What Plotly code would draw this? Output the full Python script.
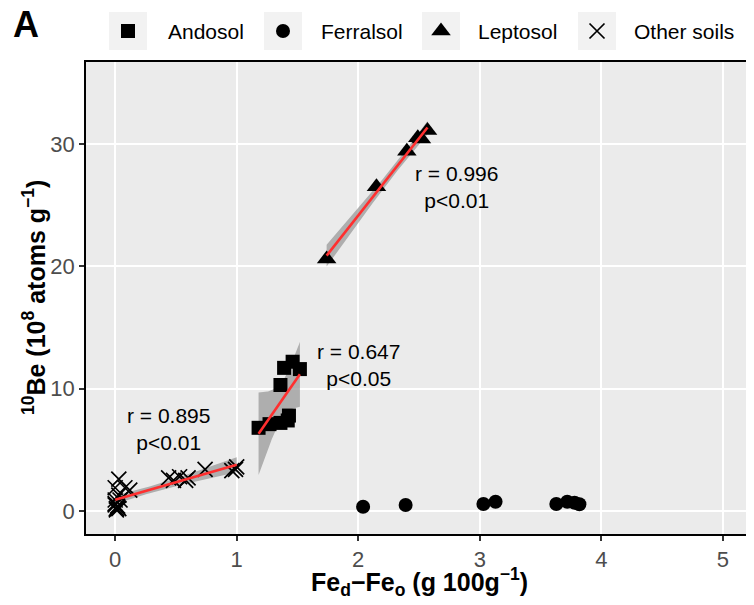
import numpy as np
import plotly.graph_objects as go

# ---------------- data ----------------
andosol_x = [1.18, 1.27, 1.36, 1.42, 1.43, 1.36, 1.39, 1.46, 1.52]
andosol_y = [6.8, 7.1, 7.2, 7.4, 7.8, 10.3, 11.7, 12.2, 11.6]

ferralsol_x = [2.04, 2.39, 3.03, 3.13, 3.63, 3.72, 3.78, 3.82]
ferralsol_y = [0.35, 0.49, 0.57, 0.76, 0.57, 0.76, 0.68, 0.55]

leptosol_x = [1.74, 2.15, 2.40, 2.49, 2.52, 2.57]
leptosol_y = [20.6, 26.5, 29.4, 30.5, 30.4, 31.1]

other_x = [0.03, 0.00, 0.08, 0.12, 0.00, 0.04, 0.00, 0.01, 0.02, 0.03,
           0.01, 0.02, 0.00, 0.03,
           0.44, 0.48, 0.53, 0.58, 0.60, 0.74, 0.96, 1.00, 0.99]
other_y = [2.6, 1.9, 1.9, 1.7, 0.9, 0.9, 0.5, 0.1, 0.3, 1.3,
           0.2, 0.4, 0.6, 0.2,
           2.7, 2.5, 2.8, 2.5, 2.7, 3.4, 3.3, 3.6, 3.4]

soil_names = ["Andosol", "Ferralsol", "Leptosol", "Other soils"]
stat_labels = {"Other soils": ("r = 0.895", "p<0.01", 0.435, 6.7),
               "Andosol": ("r = 0.647", "p<0.05", 2.0, 11.9),
               "Leptosol": ("r = 0.996", "p<0.01", 2.81, 26.45)}

x_ticks = [0, 1, 2, 3, 4, 5]
y_ticks = [0, 10, 20, 30]

# two-sided 95% t quantiles by degrees of freedom
T975 = {1: 12.706, 2: 4.303, 3: 3.182, 4: 2.776, 5: 2.571, 6: 2.447, 7: 2.365,
        8: 2.306, 9: 2.262, 10: 2.228, 11: 2.201, 12: 2.179, 13: 2.160,
        14: 2.145, 15: 2.131, 16: 2.120, 17: 2.110, 18: 2.101, 19: 2.093,
        20: 2.086, 21: 2.080, 22: 2.074, 23: 2.069, 24: 2.064, 25: 2.060}

series = {
    "Andosol": (andosol_x, andosol_y, "square", 14, True),
    "Ferralsol": (ferralsol_x, ferralsol_y, "circle", 14, False),
    "Leptosol": (leptosol_x, leptosol_y, "triangle-up", 17, True),
    "Other soils": (other_x, other_y, "x-thin", 15, True),
}

FONT = "Liberation Sans, Arial, sans-serif"
OFF = 8                      # page body margin
W, H = 754 - OFF, 605 - OFF
L, R, T, B = 86 - OFF, 752 - OFF, 62 - OFF, 534 - OFF

fig = go.Figure()


def lm_band(x, y):
    x = np.asarray(x, float)
    y = np.asarray(y, float)
    n = len(x)
    b1, b0 = np.polyfit(x, y, 1)
    xs = np.linspace(x.min(), x.max(), 80)
    yh = b0 + b1 * xs
    resid = y - (b0 + b1 * x)
    s = np.sqrt(np.sum(resid ** 2) / (n - 2))
    sxx = np.sum((x - x.mean()) ** 2)
    se = s * np.sqrt(1.0 / n + (xs - x.mean()) ** 2 / sxx)
    t = T975.get(n - 2, 1.96)
    return xs, yh, yh - t * se, yh + t * se


def marker_for(sym, size):
    if sym == "x-thin":
        return dict(symbol=sym, size=size, color="black",
                    line=dict(color="black", width=1.7))
    return dict(symbol=sym, size=size, color="black", line=dict(width=0))


# bands first
fits = {}
for name in soil_names:
    x, y, sym, size, fit = series[name]
    if fit:
        xs, yh, lo, hi = lm_band(x, y)
        fits[name] = (xs, yh)
        fig.add_trace(go.Scatter(
            x=np.concatenate([xs, xs[::-1]]), y=np.concatenate([hi, lo[::-1]]),
            fill="toself", fillcolor="rgba(150,150,150,0.72)",
            line=dict(width=0), mode="lines", hoverinfo="skip", showlegend=False))

# points
for name in soil_names:
    x, y, sym, size, fit = series[name]
    fig.add_trace(go.Scatter(x=x, y=y, mode="markers", marker=marker_for(sym, size),
                             name=name, showlegend=False))

# regression lines
for name, (xs, yh) in fits.items():
    fig.add_trace(go.Scatter(x=xs, y=yh, mode="lines",
                             line=dict(color="#FF2F2F", width=2.6),
                             hoverinfo="skip", showlegend=False))

# ---------------- manual legend (top strip) ----------------
leg_sym_x = [128 - OFF, 283 - OFF, 441 - OFF, 597 - OFF]
leg_txt_x = [166 - OFF, 319 - OFF, 476 - OFF, 632 - OFF]
leg_y = 31 - OFF
for i, name in enumerate(soil_names):
    x, y, sym, size, fit = series[name]
    fig.add_shape(type="rect", xref="x2", yref="y2",
                  x0=leg_sym_x[i] - 19, x1=leg_sym_x[i] + 19,
                  y0=leg_y - 19, y1=leg_y + 19,
                  fillcolor="#F2F2F2", line=dict(width=0), layer="below")
    fig.add_trace(go.Scatter(x=[leg_sym_x[i]], y=[leg_y], xaxis="x2", yaxis="y2",
                             mode="markers", marker=marker_for(sym, size),
                             showlegend=False, hoverinfo="skip", cliponaxis=False))
    fig.add_annotation(x=leg_txt_x[i], y=leg_y, xref="x2", yref="y2",
                       text=name, showarrow=False, xanchor="left",
                       yanchor="middle", font=dict(size=21, color="black", family=FONT))

# panel background
fig.add_shape(type="rect", xref="x domain", yref="y domain", x0=0, x1=1, y0=0, y1=1,
              fillcolor="#EBEBEB", line=dict(width=0), layer="below")

# stat annotations
for name, (r_txt, p_txt, ax, ay) in stat_labels.items():
    fig.add_annotation(x=ax, y=ay, xref="x", yref="y",
                       text=r_txt + "<br>" + p_txt.replace("<", "&lt;"),
                       showarrow=False, xanchor="center", yanchor="middle",
                       font=dict(size=21, color="black", family=FONT))

# axis titles & panel tag
fig.add_annotation(x=(L + R) / 2 / W, y=1 - (582 - OFF) / H, xref="paper", yref="paper",
                   text="<b>Fe<sub>d</sub>\u2212Fe<sub>o</sub> (g 100g<sup>\u22121</sup>)</b>",
                   showarrow=False, xanchor="center", yanchor="middle",
                   font=dict(size=25, color="black", family=FONT))
fig.add_annotation(x=(34 - OFF) / W, y=1 - ((T + B) / 2) / H, xref="paper", yref="paper",
                   text="<b><sup>10</sup>Be (10<sup>8</sup> atoms g<sup>\u22121</sup>)</b>",
                   textangle=-90, showarrow=False, xanchor="center", yanchor="middle",
                   font=dict(size=25, color="black", family=FONT))
fig.add_annotation(x=(11 - OFF) / W, y=1 - (25 - OFF) / H, xref="paper", yref="paper",
                   text="<b>A</b>", showarrow=False, xanchor="left", yanchor="middle",
                   font=dict(size=36, color="black", family=FONT))

axis_common = dict(showgrid=True, gridcolor="white", gridwidth=1.6, zeroline=False,
                   ticks="outside", ticklen=5, tickwidth=1.5, tickcolor="#333333",
                   tickfont=dict(size=22, color="#4D4D4D", family=FONT),
                   showline=True, mirror=True, linecolor="black", linewidth=1.6,
                   automargin=False)

fig.update_layout(
    width=W, height=H,
    margin=dict(l=0, r=0, t=0, b=0),
    paper_bgcolor="white", plot_bgcolor="rgba(0,0,0,0)",
    showlegend=False,
    font=dict(family=FONT),
    xaxis=dict(domain=[L / W, R / W], range=[-0.24, 5.24], tickvals=x_ticks,
               **axis_common),
    yaxis=dict(domain=[1 - B / H, 1 - T / H], range=[-1.88, 36.7], tickvals=y_ticks,
               **axis_common),
    xaxis2=dict(domain=[0, 1], range=[0, W], visible=False, anchor="y2",
                fixedrange=True),
    yaxis2=dict(domain=[1 - 56 / H, 1], range=[56, 0], visible=False, anchor="x2",
                fixedrange=True),
)

fig.write_html("out.html")
